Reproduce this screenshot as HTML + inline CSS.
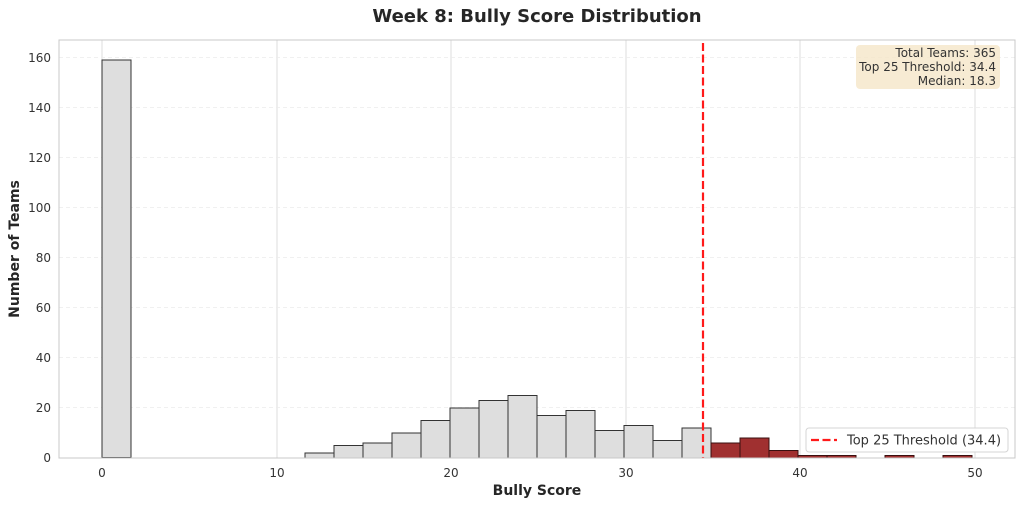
<!DOCTYPE html>
<html><head><meta charset="utf-8"><style>
body{margin:0;background:#fff;}
svg{display:block;font-family:"DejaVu Sans","Liberation Sans",sans-serif;}
</style></head><body>
<svg width="1024" height="506" viewBox="0 0 1024 506" xmlns="http://www.w3.org/2000/svg">
<rect width="1024" height="506" fill="#fff"/>
<text x="537" y="22" text-anchor="middle" font-size="18" font-weight="bold" fill="#262626">Week 8: Bully Score Distribution</text>
<g stroke="#dcdcdc" stroke-width="1">
<line x1="102" y1="40" x2="102" y2="458"/><line x1="277" y1="40" x2="277" y2="458"/>
<line x1="451" y1="40" x2="451" y2="458"/><line x1="626" y1="40" x2="626" y2="458"/>
<line x1="800" y1="40" x2="800" y2="458"/><line x1="975" y1="40" x2="975" y2="458"/>
</g>
<g stroke="#ececec" stroke-width="0.8" stroke-dasharray="4,3">
<line x1="59" y1="407.5" x2="1015" y2="407.5"/><line x1="59" y1="357.5" x2="1015" y2="357.5"/>
<line x1="59" y1="307.5" x2="1015" y2="307.5"/><line x1="59" y1="257.5" x2="1015" y2="257.5"/>
<line x1="59" y1="207.5" x2="1015" y2="207.5"/><line x1="59" y1="157.5" x2="1015" y2="157.5"/>
<line x1="59" y1="107.5" x2="1015" y2="107.5"/><line x1="59" y1="57.5" x2="1015" y2="57.5"/>
</g>
<g stroke="#333" stroke-width="1" fill="#dedede">
<rect x="102" y="60" width="29" height="397.5"/>
<rect x="305" y="453" width="29" height="5"/>
<rect x="334" y="445.5" width="29" height="12.5"/>
<rect x="363" y="443" width="29" height="15"/>
<rect x="392" y="433" width="29" height="25"/>
<rect x="421" y="420.5" width="29" height="37.5"/>
<rect x="450" y="408" width="29" height="50"/>
<rect x="479" y="400.5" width="29" height="57.5"/>
<rect x="508" y="395.5" width="29" height="62.5"/>
<rect x="537" y="415.5" width="29" height="42.5"/>
<rect x="566" y="410.5" width="29" height="47.5"/>
<rect x="595" y="430.5" width="29" height="27.5"/>
<rect x="624" y="425.5" width="29" height="32.5"/>
<rect x="653" y="440.5" width="29" height="17.5"/>
<rect x="682" y="428" width="29" height="30"/>
</g>
<g stroke="#3a1010" stroke-width="1" fill="#a03030">
<rect x="711" y="443" width="29" height="15"/>
<rect x="740" y="438" width="29" height="20"/>
<rect x="769" y="450.5" width="29" height="7.5"/>
<rect x="798" y="455.5" width="29" height="2.5"/>
<rect x="827" y="455.5" width="29" height="2.5"/>
<rect x="885" y="455.5" width="29" height="2.5"/>
<rect x="943" y="455.5" width="29" height="2.5"/>
</g>
<line x1="703" y1="43" x2="703" y2="458" stroke="#ff1a1a" stroke-width="2.2" stroke-dasharray="8,3.5"/>
<rect x="59" y="40" width="956" height="418" fill="none" stroke="#c8c8c8" stroke-width="1"/>
<g font-size="12" fill="#333" text-anchor="end">
<text x="51" y="462">0</text><text x="51" y="412">20</text><text x="51" y="362">40</text>
<text x="51" y="312">60</text><text x="51" y="262">80</text><text x="51" y="212">100</text>
<text x="51" y="162">120</text><text x="51" y="112">140</text><text x="51" y="62">160</text>
</g>
<g font-size="12" fill="#333" text-anchor="middle">
<text x="102" y="477">0</text><text x="277" y="477">10</text><text x="451" y="477">20</text>
<text x="626" y="477">30</text><text x="800" y="477">40</text><text x="975" y="477">50</text>
</g>
<text x="537" y="495" text-anchor="middle" font-size="14" font-weight="bold" fill="#262626">Bully Score</text>
<text transform="translate(19,249) rotate(-90)" text-anchor="middle" font-size="14" font-weight="bold" fill="#262626">Number of Teams</text>
<rect x="856" y="45" width="144" height="44" rx="4" fill="#f5e6c8" fill-opacity="0.8"/>
<g font-size="12" fill="#333" text-anchor="end">
<text x="996" y="57">Total Teams: 365</text>
<text x="996" y="71">Top 25 Threshold: 34.4</text>
<text x="996" y="85">Median: 18.3</text>
</g>
<rect x="806" y="428" width="202" height="24" rx="3" fill="#fff" fill-opacity="0.9" stroke="#d5d5d5"/>
<line x1="811" y1="440" x2="837" y2="440" stroke="#ff1a1a" stroke-width="2.2" stroke-dasharray="8,3.5"/>
<text x="847" y="444.5" font-size="13" fill="#333">Top 25 Threshold (34.4)</text>
</svg>
</body></html>
